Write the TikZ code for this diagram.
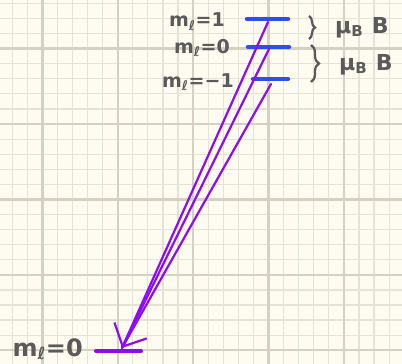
\documentclass[tikz,border=0pt]{standalone}
\usepackage{fontspec}
\setmainfont{DejaVu Sans}
\usepackage{xcolor}
\usepackage{tikz}
\usetikzlibrary{arrows.meta,calc,positioning,decorations.pathreplacing}
\definecolor{Paper}{HTML}{FEFCF0}
\definecolor{GridLo}{HTML}{E5E2D6}
\definecolor{GridHi}{HTML}{D4D0C2}
\definecolor{Level}{HTML}{2C4DF0}
\definecolor{Photon}{HTML}{8E0CF5}
\definecolor{Pencil}{HTML}{5A5A5A}
\newcommand{\levelbar}[7]{%
  \coordinate (#1w) at (#2,#4); \coordinate (#1e) at (#3,#4);
  \draw[line width=4.5pt,line cap=round,color=Level] (#1w) -- (#1e);
  \node[text=Pencil,font=\fontsize{19}{21}\selectfont\bfseries,anchor=base east,inner sep=0pt] (#1l) at (#5,#6) {#7};}
\newcommand{\muBB}{μ\raisebox{-3pt}{\fontsize{15}{15}\selectfont B}\hspace{9pt}B}

\begin{document}
\begin{tikzpicture}[x=1pt,y=-1pt]
    \fill[Paper] (0,0) rectangle (402,364);
    \useasboundingbox (0,0) rectangle (402,364);
    \foreach \k in {0,...,25}
      \draw[GridLo,line width=1.2pt] ({12.1+15.08*\k},0) -- ++(0,364);
    \foreach \k in {0,...,23}
      \draw[GridLo,line width=1.2pt] (0,{3.4+15.08*\k}) -- ++(402,0);
    \foreach \k in {0,...,4}
      \draw[GridHi,line width=2.4pt] ({42.3+75.4*\k},0) -- ++(0,364);
    \foreach \k in {0,...,4}
      \draw[GridHi,line width=2.4pt] (0,{48.6+75.4*\k}) -- ++(402,0);
    \levelbar{up}{247}{288}{19}{225}{27}{m\textsubscript{ℓ}=1}
    \levelbar{mid}{248}{289}{47}{230}{53}{m\textsubscript{ℓ}=0}
    \levelbar{dn}{253}{288}{79}{234}{87}{m\textsubscript{ℓ}=−1}
    \coordinate (gw) at (96,351); \coordinate (ge) at (141,351);
    \draw[line width=4pt,line cap=round,color=Photon] (gw) -- (ge);
    \node[text=Pencil,font=\fontsize{24}{26}\selectfont\bfseries,anchor=base east,inner sep=0pt] (gl) at (83,356) {m\textsubscript{ℓ}=0};
    \coordinate (tip) at (122,348);
    \coordinate (s1) at (268,22);
    \coordinate (s0) at (269,49);
    \coordinate (sm1) at (271,84);
    \foreach \s in {s1,sm1}
      \draw[line width=2.2pt,line cap=round,color=Photon] (\s) -- (tip);
    \draw[-{Straight Barb[length=18pt,width=36pt]},line width=2.2pt,line cap=round,color=Photon] (s0) -- (tip);
    \coordinate (b1t) at (309,16); \coordinate (b1b) at (309,39);
    \coordinate (b2t) at (311,45); \coordinate (b2b) at (311,82);
    \draw[decorate,decoration={brace,amplitude=6pt},line width=2.2pt,Pencil] (b1t) -- (b1b);
    \draw[decorate,decoration={brace,amplitude=8pt},line width=2.2pt,Pencil] (b2t) -- (b2b);
    \node[text=Pencil,font=\fontsize{22}{24}\selectfont\bfseries,anchor=base west,inner sep=0pt] (e1) at (335,33) {\muBB};
    \node[text=Pencil,font=\fontsize{22}{24}\selectfont\bfseries,anchor=base west,inner sep=0pt] (e2) at (339,70) {\muBB};
  \end{tikzpicture}
\end{document}
